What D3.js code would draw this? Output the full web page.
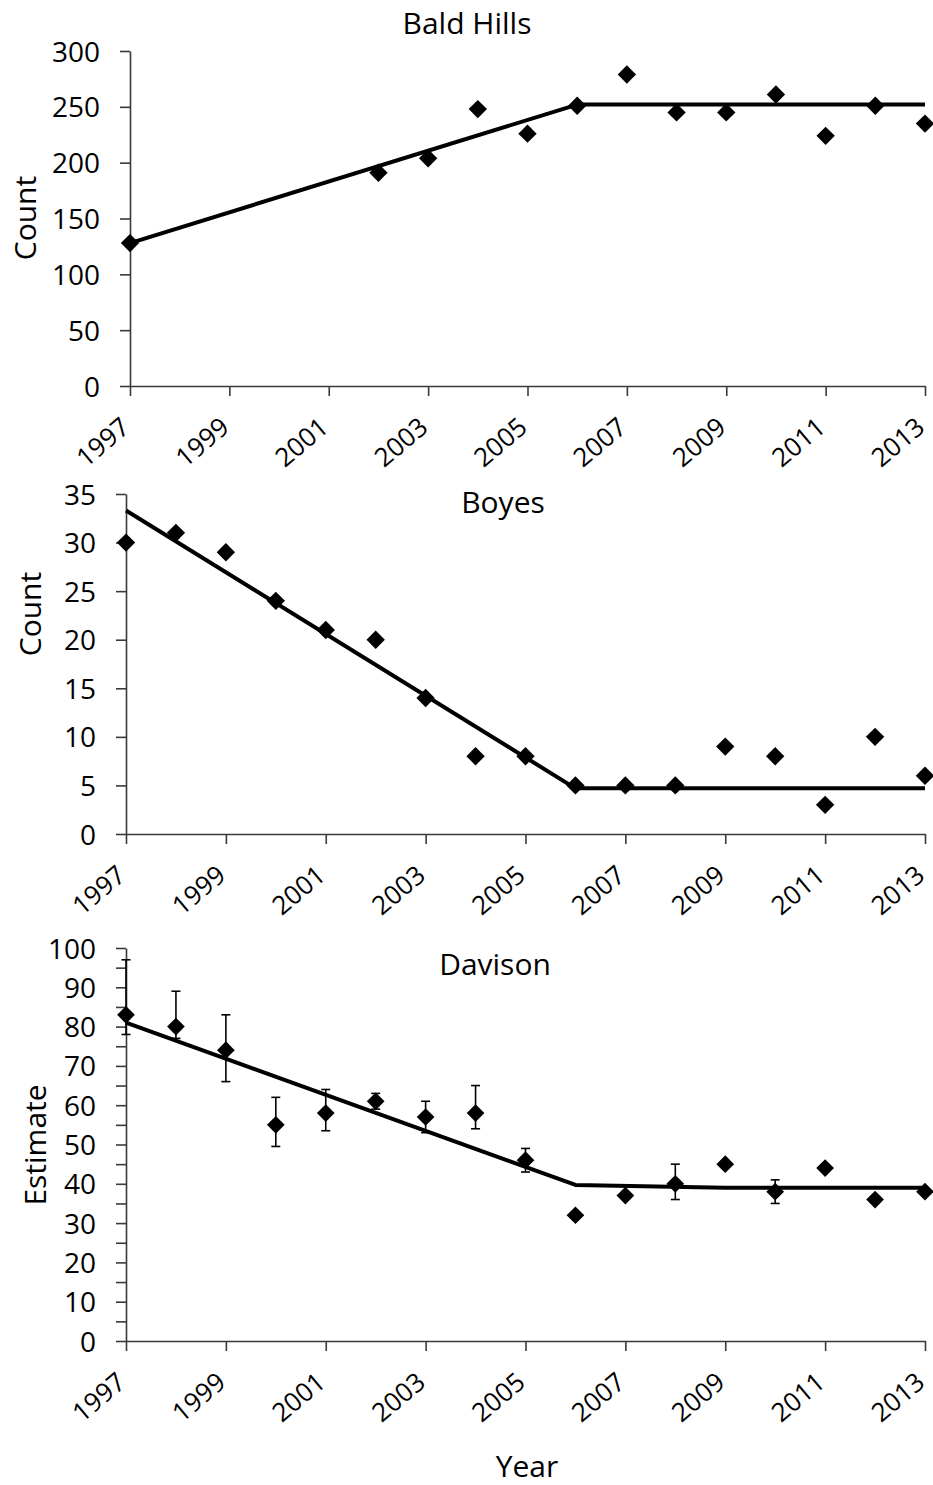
<!DOCTYPE html>
<html>
<head>
<meta charset="utf-8">
<script src="https://cdn.jsdelivr.net/npm/d3@7"></script>
<style>
  html, body { margin: 0; padding: 0; background: #fff; }
  svg { display: block; }
  text { font-family: "Open Sans", "Noto Sans", sans-serif; fill: #000; }
</style>
</head>
<body>
<svg id="chart" width="933" height="1485"></svg>
<script>
// ---- Data ----
const xTickYears = [1997, 1999, 2001, 2003, 2005, 2007, 2009, 2011, 2013];

const baldHillsYears  = [1997, 2002, 2003, 2004, 2005, 2006, 2007, 2008, 2009, 2010, 2011, 2012, 2013];
const baldHillsCounts = [128, 191, 204, 248, 226, 251, 279, 245, 245, 261, 224, 251, 235];
const baldHillsFitYears = [1997, 2006, 2013];
const baldHillsFit      = [128, 252, 252];
const baldHillsTicks    = [0, 50, 100, 150, 200, 250, 300];

const boyesYears  = [1997, 1998, 1999, 2000, 2001, 2002, 2003, 2004, 2005, 2006, 2007, 2008, 2009, 2010, 2011, 2012, 2013];
const boyesCounts = [30, 31, 29, 24, 21, 20, 14, 8, 8, 5, 5, 5, 9, 8, 3, 10, 6];
const boyesFitYears = [1997, 2006, 2013];
const boyesFit      = [33.3, 4.7, 4.7];
const boyesTicks    = [0, 5, 10, 15, 20, 25, 30, 35];

const davisonYears     = [1997, 1998, 1999, 2000, 2001, 2002, 2003, 2004, 2005, 2006, 2007, 2008, 2009, 2010, 2011, 2012, 2013];
const davisonEstimates = [83, 80, 74, 55, 58, 61, 57, 58, 46, 32, 37, 40, 45, 38, 44, 36, 38];
const davisonLower     = [78, 77, 66, 49.5, 53.5, 59, 53, 54, 43, null, null, 36, null, 35, null, null, null];
const davisonUpper     = [97, 89, 83, 62, 64, 63, 61, 65, 49, null, null, 45, null, 41, null, null, null];
const davisonFitYears  = [1997, 2006, 2009, 2013];
const davisonFit       = [81, 39.7, 39, 39];
const davisonTicks     = [0, 10, 20, 30, 40, 50, 60, 70, 80, 90, 100];
const davisonMinorTicks = [5, 15, 25, 35, 45, 55, 65, 75, 85, 95];

// ---- Drawing ----
const svg = d3.select("#chart");
const AXIS_COLOR = "#3a3a3a";

function panel(opts) {
  const g = svg.append("g");
  const x = d3.scaleLinear().domain([1997, 2013]).range([opts.left, opts.right]);
  const y = d3.scaleLinear().domain(opts.yDomain).range([opts.bottom, opts.top]);

  // y axis
  const yAxis = d3.axisLeft(y).tickValues(opts.yTicks).tickSize(10).tickSizeOuter(0).tickPadding(20)
    .tickFormat(d3.format("d"));
  const gy = g.append("g").attr("transform", `translate(${opts.left},0)`).call(yAxis);
  if (opts.yMinor) {
    g.append("g").attr("transform", `translate(${opts.left},0)`)
      .call(d3.axisLeft(y).tickValues(opts.yMinor).tickSize(10).tickSizeOuter(0).tickFormat(""))
      .select(".domain").remove();
  }

  // x axis with slanted year labels
  const xAxis = d3.axisBottom(x).tickValues(xTickYears).tickSize(10).tickSizeOuter(0)
    .tickFormat(d3.format("d"));
  const gx = g.append("g").attr("transform", `translate(0,${opts.bottom})`).call(xAxis);
  gx.selectAll(".tick text")
    .attr("x", 1).attr("y", 44).attr("dy", 0)
    .attr("text-anchor", "end")
    .attr("transform", "rotate(-40,1,44)")
    .style("font-size", "26px");

  gy.selectAll(".tick text").style("font-size", "28px").attr("dy", "0.36em");

  g.selectAll(".domain, .tick line").attr("stroke", AXIS_COLOR).attr("stroke-width", 1.6);
  g.selectAll(".tick text").attr("fill", "#000");

  // fitted trend line
  const fitPts = opts.fitYears.map((yr, i) => [yr, opts.fit[i]]);
  g.append("path")
    .datum(fitPts)
    .attr("d", d3.line().x(d => x(d[0])).y(d => y(d[1])))
    .attr("fill", "none").attr("stroke", "#000").attr("stroke-width", 4)
    .attr("stroke-linejoin", "round");

  // error bars
  if (opts.lower) {
    const eb = opts.years.map((yr, i) => ({ yr, lo: opts.lower[i], hi: opts.upper[i] }))
      .filter(d => d.lo != null && d.hi != null);
    const ge = g.append("g").attr("stroke", "#000").attr("stroke-width", 1.6);
    ge.selectAll("line.v").data(eb).join("line")
      .attr("x1", d => x(d.yr)).attr("x2", d => x(d.yr))
      .attr("y1", d => y(d.lo)).attr("y2", d => y(d.hi));
    ge.selectAll("line.t").data(eb).join("line")
      .attr("x1", d => x(d.yr) - 4.5).attr("x2", d => x(d.yr) + 4.5)
      .attr("y1", d => y(d.hi)).attr("y2", d => y(d.hi));
    ge.selectAll("line.b").data(eb).join("line")
      .attr("x1", d => x(d.yr) - 4.5).attr("x2", d => x(d.yr) + 4.5)
      .attr("y1", d => y(d.lo)).attr("y2", d => y(d.lo));
  }

  // diamond markers
  const diamond = d3.symbol().type(d3.symbolDiamond2).size(opts.markerSize);
  g.selectAll("path.pt").data(opts.years.map((yr, i) => [yr, opts.values[i]])).join("path")
    .attr("class", "pt")
    .attr("d", diamond)
    .attr("transform", d => `translate(${x(d[0])},${y(d[1])})`)
    .attr("fill", "#000");

  // titles
  g.append("text").attr("x", opts.titleX).attr("y", opts.titleY)
    .attr("text-anchor", "middle").style("font-size", "30px").text(opts.title);
  g.append("text")
    .attr("transform", `translate(${opts.yTitleX},${opts.yTitleY}) rotate(-90)`)
    .attr("text-anchor", "middle").style("font-size", "30px").text(opts.yTitle);
  return { g, x, y };
}

panel({
  left: 130, right: 925, top: 51, bottom: 386, yDomain: [0, 300], yTicks: baldHillsTicks,
  years: baldHillsYears, values: baldHillsCounts, fitYears: baldHillsFitYears, fit: baldHillsFit,
  title: "Bald Hills", titleX: 467, titleY: 34, yTitle: "Count", yTitleX: 36, yTitleY: 218,
  markerSize: 215
});

panel({
  left: 126, right: 925, top: 494, bottom: 834, yDomain: [0, 35], yTicks: boyesTicks,
  years: boyesYears, values: boyesCounts, fitYears: boyesFitYears, fit: boyesFit,
  title: "Boyes", titleX: 503, titleY: 513, yTitle: "Count", yTitleX: 41, yTitleY: 614,
  markerSize: 215
});

panel({
  left: 126, right: 925, top: 948, bottom: 1341, yDomain: [0, 100], yTicks: davisonTicks, yMinor: davisonMinorTicks,
  years: davisonYears, values: davisonEstimates, fitYears: davisonFitYears, fit: davisonFit,
  lower: davisonLower, upper: davisonUpper,
  title: "Davison", titleX: 495, titleY: 975, yTitle: "Estimate", yTitleX: 46, yTitleY: 1145,
  markerSize: 200
});

svg.append("text").attr("x", 527).attr("y", 1477).attr("text-anchor", "middle")
  .style("font-size", "30px").text("Year");
</script>
</body>
</html>
